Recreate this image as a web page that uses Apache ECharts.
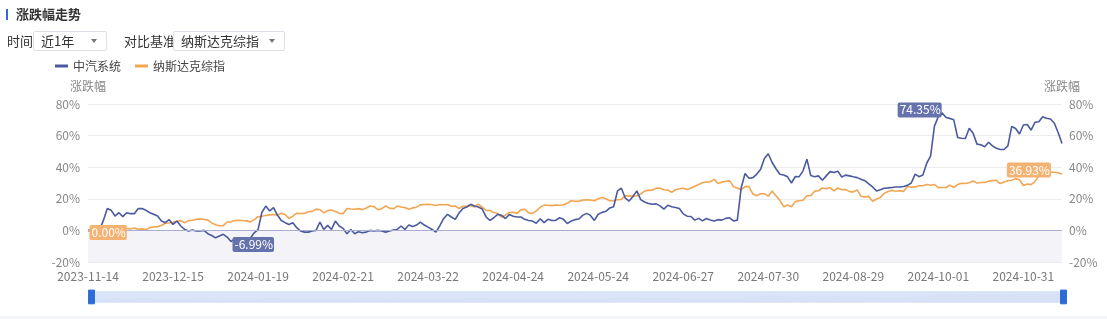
<!DOCTYPE html>
<html><head><meta charset="utf-8">
<script src="https://cdn.jsdelivr.net/npm/echarts@6/dist/echarts.min.js"></script>
<style>
html,body{margin:0;padding:0;background:#fff;font-family:"Noto Sans CJK SC","Noto Sans",sans-serif;}
#chart{position:absolute;left:0;top:0;width:1107px;height:319px;}
.ov{position:absolute;z-index:5;color:#333;font-size:13px;line-height:20px;white-space:nowrap;}
.sel{position:absolute;z-index:5;border:1px solid #dcdfe6;border-radius:2px;height:20px;box-sizing:border-box;font-size:13px;line-height:18px;color:#333;padding-left:7px;background:#fff;}
.arr{position:absolute;right:9px;top:7px;width:0;height:0;border-left:3.5px solid transparent;border-right:3.5px solid transparent;border-top:4px solid #777;}
#foot{position:absolute;left:0;top:316px;width:1107px;height:3px;background:#f3f4f7;z-index:5;}
</style></head>
<body>
<div id="chart"></div>
<div class="ov" style="left:6px;top:9px;width:2px;height:11px;background:#2f6bd6;"></div>
<div class="ov" style="left:16px;top:4px;font-weight:bold;font-size:13px;">涨跌幅走势</div>
<div class="ov" style="left:7px;top:31px;">时间</div>
<div class="sel" style="left:33px;top:31px;width:74px;">近1年<span class="arr"></span></div>
<div class="ov" style="left:124px;top:31px;">对比基准</div>
<div class="sel" style="left:173px;top:31px;width:112px;">纳斯达克综指<span class="arr"></span></div>
<div id="foot"></div>
<script>
// trading days (US market) per month
const tradingDays = [
  ['2023-11',[14,15,16,17,20,21,22,24,27,28,29,30]],
  ['2023-12',[1,4,5,6,7,8,11,12,13,14,15,18,19,20,21,22,26,27,28,29]],
  ['2024-01',[2,3,4,5,8,9,10,11,12,16,17,18,19,22,23,24,25,26,29,30,31]],
  ['2024-02',[1,2,5,6,7,8,9,12,13,14,15,16,20,21,22,23,26,27,28,29]],
  ['2024-03',[1,4,5,6,7,8,11,12,13,14,15,18,19,20,21,22,25,26,27,28]],
  ['2024-04',[1,2,3,4,5,8,9,10,11,12,15,16,17,18,19,22,23,24,25,26,29,30]],
  ['2024-05',[1,2,3,6,7,8,9,10,13,14,15,16,17,20,21,22,23,24,28,29,30,31]],
  ['2024-06',[3,4,5,6,7,10,11,12,13,14,17,18,20,21,24,25,26,27,28]],
  ['2024-07',[1,2,3,5,8,9,10,11,12,15,16,17,18,19,22,23,24,25,26,29,30,31]],
  ['2024-08',[1,2,5,6,7,8,9,12,13,14,15,16,19,20,21,22,23,26,27,28,29,30]],
  ['2024-09',[3,4,5,6,9,10,11,12,13,16,17,18,19,20,23,24,25,26,27,30]],
  ['2024-10',[1,2,3,4,7,8,9,10,11,14,15,16,17,18,21,22,23,24,25,28,29,30,31]],
  ['2024-11',[1,4,5,6,7,8,11,12,13,14]]
];
const categories = [];
tradingDays.forEach(function(m){ m[1].forEach(function(d){ categories.push(m[0] + '-' + (d < 10 ? '0' + d : d)); }); });

const seriesNames = ['中汽系统', '纳斯达克综指'];

const caasValues = [
  0.00,-0.3,-0.5,0.2,6.5,13.8,12.7,9.1,11.2,8.7,
  11.2,10.6,10.6,13.8,13.8,12.7,11.2,10.2,9.1,5.9,
  4.9,6.8,3.8,5.9,2.8,0.6,-0.4,0.2,-0.4,-0.4,
  0.0,-2.1,-3.2,-4.7,-3.6,-2.5,-4.2,-6.99,-5.5,-4.8,
  -5.6,-6.2,-5.0,-1.5,0.5,11.5,15.4,12.3,14.4,9.7,
  6.3,4.9,3.8,4.9,1.7,-0.4,-1.1,-1.1,-0.4,0.0,
  5.3,0.6,3.2,0.6,5.9,2.8,1.3,-2.1,0.6,-2.1,
  -0.8,-1.5,-1.1,0.0,-0.4,0.0,-0.4,-1.1,-0.4,0.2,
  0.6,2.8,0.6,3.4,2.5,3.4,5.3,3.4,2.1,0.6,
  -1.1,2.8,7.4,10.2,8.5,7.0,11.0,13.8,14.8,16.5,
  15.4,14.8,13.5,8.5,6.3,8.0,10.2,9.5,7.5,10.0,
  9.0,8.5,8.5,7.0,6.3,5.9,4.5,7.4,4.9,7.0,
  6.3,6.3,8.0,7.0,4.4,5.9,6.8,7.2,9.5,10.8,
  9.5,6.3,10.2,11.4,12.1,14.2,15.0,25.0,26.7,20.5,
  18.6,21.5,25.0,19.5,18.0,17.0,16.5,16.8,15.5,13.5,
  15.9,15.0,14.5,13.8,10.5,9.0,8.8,6.5,7.6,6.0,
  7.5,6.6,6.0,6.8,6.5,7.6,8.0,6.0,6.5,27.0,
  36.0,33.0,33.4,35.5,38.5,45.5,48.5,43.0,39.0,35.5,
  35.1,33.9,30.0,34.1,34.0,37.7,45.1,34.7,34.0,34.5,
  31.7,34.5,37.2,36.6,37.5,33.8,35.0,34.5,33.9,33.4,
  32.4,31.5,29.5,27.5,25.0,25.8,26.7,26.9,27.2,27.5,
  27.5,27.8,28.5,30.0,35.6,34.0,35.0,42.5,47.0,66.0,
  72.0,74.35,71.5,70.9,70.0,58.8,58.3,58.2,64.6,61.5,
  54.6,54.2,53.0,55.8,53.5,52.0,51.2,51.2,53.5,65.8,
  64.5,61.0,66.7,67.0,63.5,68.4,68.8,72.0,71.0,70.5,
  68.0,62.0,55.0
];

const nasdaqValues = [
  0.00,0.07,0.14,0.22,1.35,0.75,1.22,1.11,1.04,1.33,1.16,0.94,
  1.49,0.65,0.96,0.37,1.74,2.20,2.40,3.12,4.54,4.73,5.11,5.75,6.17,4.85,6.17,6.38,6.96,7.13,7.10,6.51,
  4.76,3.53,2.95,3.05,5.32,5.42,6.21,6.45,6.23,6.03,5.40,6.82,8.63,8.98,9.45,9.84,10.05,9.66,10.88,10.04,7.59,
  8.99,10.89,10.67,10.75,11.79,12.06,13.45,13.11,11.08,12.52,12.86,11.93,10.90,10.55,13.82,13.50,13.35,13.77,13.15,14.17,
  15.47,14.99,13.09,13.74,15.46,14.12,13.66,15.40,14.78,14.43,13.33,14.25,14.70,16.14,16.37,16.56,16.25,15.76,16.36,16.21,
  16.34,15.23,15.49,13.87,15.28,15.32,15.70,14.73,16.66,14.76,12.70,12.56,11.27,10.69,8.43,9.63,11.37,11.48,10.77,13.01,13.40,11.09,
  10.72,12.39,14.63,16.00,15.88,15.67,15.98,15.94,16.28,17.15,18.79,18.48,18.39,19.16,19.43,19.21,18.74,20.05,20.76,20.05,18.75,18.74,
  19.40,19.60,21.95,21.84,21.56,21.98,23.05,24.93,25.35,25.50,26.70,26.73,25.74,25.51,24.14,25.71,26.33,26.71,25.81,
  26.85,27.91,29.05,30.21,30.58,30.76,32.30,29.72,30.54,31.06,31.32,27.69,26.80,25.77,27.76,27.69,23.04,21.91,23.15,23.24,21.66,24.87,
  21.99,19.03,14.94,16.12,14.91,18.20,18.81,19.06,21.95,21.98,24.83,25.10,26.84,26.41,27.13,25.01,26.84,25.76,25.97,24.56,24.28,25.68,
  21.58,21.21,21.52,18.42,19.80,20.80,23.42,24.66,25.47,24.82,25.07,24.68,27.81,27.34,27.53,28.24,28.29,29.06,28.56,29.05,
  27.08,27.18,27.13,28.69,27.17,29.01,29.78,29.71,30.14,31.28,29.95,30.32,30.36,31.18,31.54,31.78,29.67,30.66,31.39,31.74,32.77,32.02,28.39,
  29.41,28.99,30.83,34.69,36.72,36.84,36.93,36.80,36.44,35.57
];

const yTicks = { min: -20, max: 80, interval: 20 };

const BLUE = '#4b5a9e', ORANGE = '#f2a552';
const FONT = '"Noto Sans CJK SC","Noto Sans",sans-serif';

function pctLabel(p){ return p.value.toFixed(2) + '%'; }
function mp(color, bg){
  return {
    symbol: 'circle', symbolSize: 1, silent: true,
    itemStyle: { color: color },
    label: { show: true, formatter: pctLabel, color: '#fff', backgroundColor: bg,
      padding: [2, 1, 1, 2], borderRadius: 2, fontSize: 12, fontFamily: FONT, distance: 1 },
    data: []
  };
}
const caasMP = mp(BLUE, '#6672ac');
caasMP.data = [
  { type: 'max', label: { position: 'left', offset: [1, -3] } },
  { type: 'min', label: { position: 'right', offset: [0, 3] } }
];
const ndqMP = mp(ORANGE, '#f4b273');
ndqMP.data = [
  { type: 'max', label: { position: 'left', offset: [2, -2] } },
  { type: 'min', label: { position: 'right', offset: [0, 2] } }
];

const chart = echarts.init(document.getElementById('chart'));
const yLabel = { color: '#888', fontSize: 12, fontFamily: FONT, formatter: '{value}%' };
chart.setOption({
  animation: false,
  textStyle: { fontFamily: FONT },
  legend: {
    left: 50, top: 55, itemGap: 14, itemWidth: 13, itemHeight: 3, icon: 'rect',
    textStyle: { color: '#444', fontSize: 12, fontFamily: FONT },
    data: seriesNames
  },
  grid: { left: 88, right: 45, top: 104, bottom: 57, containLabel: false },
  xAxis: {
    type: 'category', data: categories, boundaryGap: false,
    axisLine: { show: false }, axisTick: { show: false },
    axisLabel: { interval: 21, color: '#777', fontSize: 12, fontFamily: FONT, margin: 8 },
    splitLine: { show: false }
  },
  yAxis: [
    { type: 'value', min: yTicks.min, max: yTicks.max, interval: yTicks.interval, name: '涨跌幅',
      nameGap: 12, nameTextStyle: { color: '#888', fontSize: 12, align: 'center' },
      axisLine: { show: false }, axisTick: { show: false }, axisLabel: Object.assign({ margin: 8 }, yLabel),
      splitLine: { lineStyle: { color: '#ececec' } } },
    { type: 'value', min: yTicks.min, max: yTicks.max, interval: yTicks.interval, name: '涨跌幅',
      nameGap: 12, nameTextStyle: { color: '#888', fontSize: 12, align: 'center' }, position: 'right',
      axisLine: { show: false }, axisTick: { show: false }, axisLabel: Object.assign({ margin: 7 }, yLabel),
      splitLine: { show: false } }
  ],
  dataZoom: [{
    type: 'slider', start: 0, end: 100, left: 88, right: 45, bottom: 17, height: 11,
    showDetail: false, brushSelect: false, moveHandleSize: 0,
    backgroundColor: '#eef2fb', borderColor: '#d5e0f5', fillerColor: 'rgba(205,220,246,0.6)',
    dataBackground: { lineStyle: { color: '#c8d5f0', width: 0.5, opacity: 0.4 }, areaStyle: { color: '#d3ddf3', opacity: 0.3 } },
    selectedDataBackground: { lineStyle: { color: '#c8d5f0', width: 0.5, opacity: 0.4 }, areaStyle: { color: '#d3ddf3', opacity: 0.3 } },
    handleIcon: 'path://M0,0 L6,0 L6,14 L0,14 Z',
    handleSize: '125%',
    handleStyle: { color: '#2f6bd6', borderColor: '#2f6bd6' }
  }],
  series: [
    { name: seriesNames[0], type: 'line', data: caasValues, yAxisIndex: 0, showSymbol: false, symbol: 'none',
      lineStyle: { color: BLUE, width: 1.6 }, itemStyle: { color: BLUE }, z: 3,
      markPoint: caasMP,
      markArea: { silent: true, itemStyle: { color: '#f4f4f8' }, data: [[{ yAxis: -20 }, { yAxis: 0 }]] },
      markLine: { silent: true, symbol: 'none', label: { show: false },
        lineStyle: { color: '#a8acd0', width: 1, type: 'solid' }, data: [{ yAxis: 0 }] }
    },
    { name: seriesNames[1], type: 'line', data: nasdaqValues, yAxisIndex: 0, showSymbol: false, symbol: 'none',
      lineStyle: { color: ORANGE, width: 1.6 }, itemStyle: { color: ORANGE }, z: 2,
      markPoint: ndqMP
    }
  ]
});
</script>
</body></html>
